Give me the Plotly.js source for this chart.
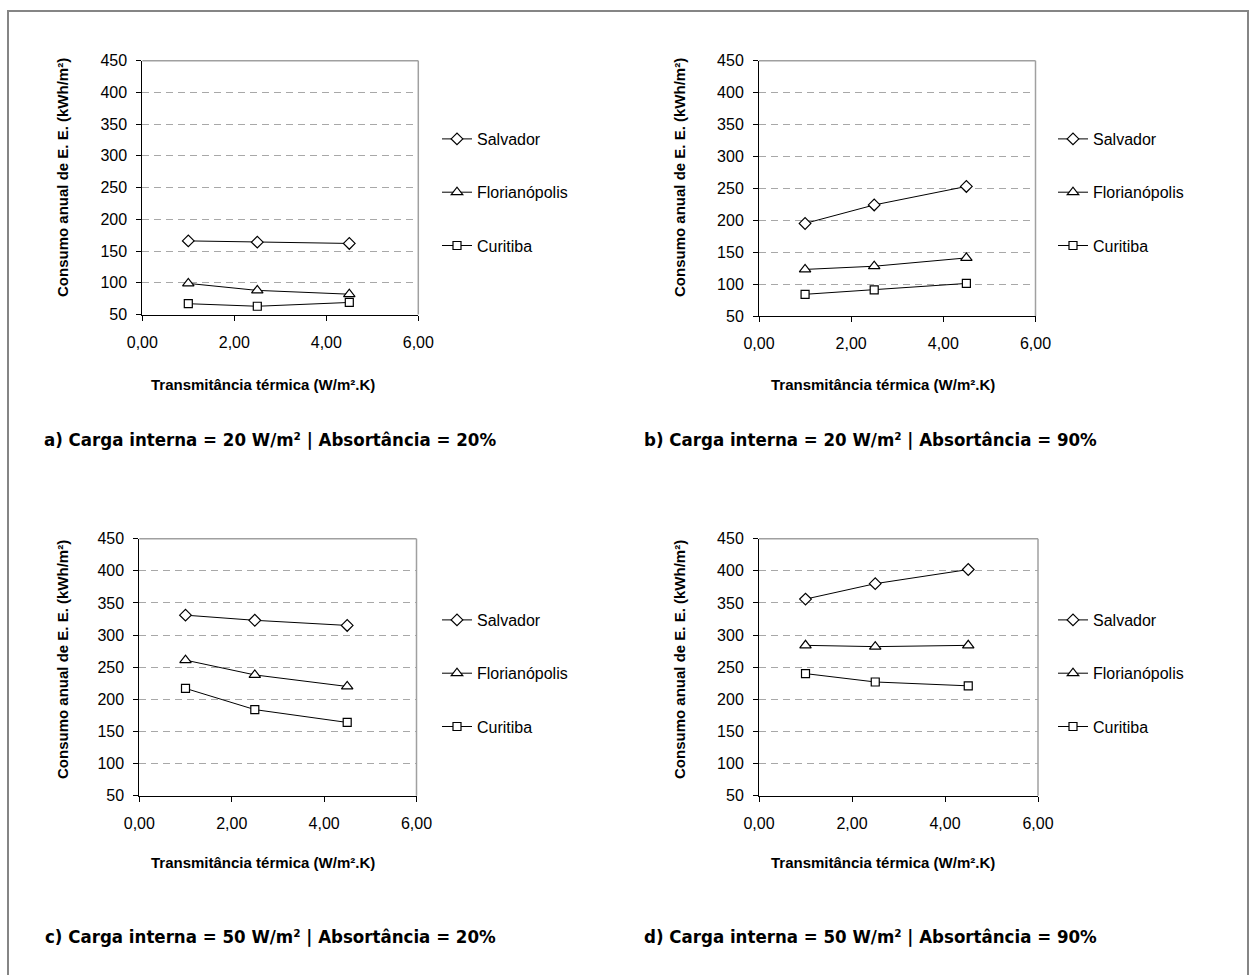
<!DOCTYPE html>
<html>
<head>
<meta charset="utf-8">
<script src="https://cdn.plot.ly/plotly-3.0.1.min.js"></script>
<style>html,body{margin:0;padding:0;background:#fff;}#chart{width:1252px;height:975px;}</style>
</head>
<body>
<div id="chart"></div>
<script>
// ---- data ----
const transmitancia = [1.0, 2.5, 4.5];
const cities = ["Salvador", "Florianópolis", "Curitiba"];
const symbols = ["diamond", "triangle-up", "square"];
const symbolSizes = [9, 10, 8];

const a_salvador = [166, 164, 162];
const a_florianopolis = [99, 88, 82];
const a_curitiba = [67, 63, 69];

const b_salvador = [195, 224, 253];
const b_florianopolis = [123, 128, 141];
const b_curitiba = [84, 91, 101];

const c_salvador = [331, 323, 315];
const c_florianopolis = [261, 238, 220];
const c_curitiba = [217, 184, 164];

const d_salvador = [356, 380, 402];
const d_florianopolis = [284, 282, 284];
const d_curitiba = [240, 227, 221];

const captions = [
  "a) Carga interna = 20 W/m² | Absortância = 20%",
  "b) Carga interna = 20 W/m² | Absortância = 90%",
  "c) Carga interna = 50 W/m² | Absortância = 20%",
  "d) Carga interna = 50 W/m² | Absortância = 90%"
];
const yTitle = "Consumo anual de E. E. (kWh/m²)";
const xTitle = "Transmitância térmica (W/m².K)";
const yTickVals = [50, 100, 150, 200, 250, 300, 350, 400, 450];
const xTickVals = [0, 2, 4, 6];

// ---- layout helpers ----
const W = 1252, H = 975;
const px = v => v / W;
const py = v => 1 - v / H;

const panels = [
  {key: "a", data: [a_salvador, a_florianopolis, a_curitiba], x: [142.3, 418.3], y: [60.7, 314.5],
   legX: 437, legY: 122, ytX: 62, ytY: 178, xtX: 263, xtY: 384, capX: 270, capY: 439},
  {key: "b", data: [b_salvador, b_florianopolis, b_curitiba], x: [759, 1035.5], y: [60.7, 316],
   legX: 1053, legY: 122, ytX: 679, ytY: 178, xtX: 883, xtY: 384, capX: 870, capY: 439},
  {key: "c", data: [c_salvador, c_florianopolis, c_curitiba], x: [139.3, 416.5], y: [538.7, 795.7],
   legX: 437, legY: 603, ytX: 62, ytY: 660, xtX: 263, xtY: 862, capX: 270, capY: 936},
  {key: "d", data: [d_salvador, d_florianopolis, d_curitiba], x: [759, 1038], y: [538.7, 795.7],
   legX: 1053, legY: 603, ytX: 679, ytY: 660, xtX: 883, xtY: 862, capX: 870, capY: 936}
];

const FONT = "Liberation Sans, Arial, sans-serif";
const traces = [];
const layout = {
  width: W, height: H,
  margin: {l: 0, r: 0, t: 0, b: 0},
  paper_bgcolor: "#ffffff",
  plot_bgcolor: "#ffffff",
  separators: ",.",
  showlegend: true,
  font: {family: FONT, color: "#000", size: 15},
  annotations: [],
  shapes: []
};

panels.forEach((p, i) => {
  const n = i + 1;
  const xa = n === 1 ? "xaxis" : "xaxis" + n;
  const ya = n === 1 ? "yaxis" : "yaxis" + n;
  const xr = n === 1 ? "x" : "x" + n;
  const yr = n === 1 ? "y" : "y" + n;
  const leg = n === 1 ? "legend" : "legend" + n;

  p.data.forEach((vals, k) => {
    traces.push({
      type: "scatter", mode: "lines+markers",
      x: transmitancia, y: vals, name: cities[k],
      xaxis: xr, yaxis: yr, legend: leg, legendgroup: p.key + k,
      line: {color: "#000", width: 1},
      marker: {symbol: symbols[k], size: symbolSizes[k], color: "#ffffff", line: {width: 1.2, color: "#000"}},
      cliponaxis: false
    });
  });

  layout[xa] = {
    domain: [px(p.x[0]), px(p.x[1])], anchor: yr,
    range: [0, 6], tickvals: xTickVals, tickformat: ".2f",
    showgrid: false, zeroline: false,
    showline: true, linecolor: "#000", linewidth: 1,
    ticks: "outside", ticklen: 5, tickcolor: "#000", tickwidth: 1,
    ticklabelstandoff: 8,
    tickfont: {family: FONT, size: 16, color: "#000"}
  };
  layout[ya] = {
    domain: [py(p.y[1]), py(p.y[0])], anchor: xr,
    range: [50, 450], tickvals: yTickVals,
    showgrid: true, gridcolor: "#a8a8a8", gridwidth: 1, griddash: "7px,5px",
    zeroline: false,
    showline: true, linecolor: "#000", linewidth: 1,
    ticks: "outside", ticklen: 5, tickcolor: "#000", tickwidth: 1,
    ticklabelstandoff: 6,
    tickfont: {family: FONT, size: 16, color: "#000"}
  };
  layout[leg] = {
    x: px(p.legX), y: py(p.legY), xanchor: "left", yanchor: "top",
    bgcolor: "rgba(0,0,0,0)", borderwidth: 0,
    traceorder: "grouped", tracegroupgap: 29.5,
    font: {family: FONT, size: 16, color: "#000"}
  };
  // top & right plot frame (gray)
  layout.shapes.push({type: "line", xref: xr + " domain", yref: yr + " domain", x0: 0, x1: 1, y0: 1, y1: 1,
    line: {color: "#a0a0a0", width: 1.5}});
  layout.shapes.push({type: "line", xref: xr + " domain", yref: yr + " domain", x0: 1, x1: 1, y0: 0, y1: 1,
    line: {color: "#a0a0a0", width: 1.5}});

  layout.annotations.push({text: "<b>" + yTitle + "</b>", textangle: -90, xref: "paper", yref: "paper",
    x: px(p.ytX), y: py(p.ytY), xanchor: "center", yanchor: "middle", showarrow: false,
    font: {family: FONT, size: 15, color: "#000"}});
  layout.annotations.push({text: "<b>" + xTitle + "</b>", xref: "paper", yref: "paper",
    x: px(p.xtX), y: py(p.xtY), xanchor: "center", yanchor: "middle", showarrow: false,
    font: {family: FONT, size: 15, color: "#000"}});
  layout.annotations.push({text: "<b>" + captions[i] + "</b>", xref: "paper", yref: "paper",
    x: px(p.capX), y: py(p.capY), xanchor: "center", yanchor: "middle", showarrow: false,
    font: {family: "DejaVu Sans Condensed, DejaVu Sans, sans-serif", size: 18.5, color: "#000"}});
});

// outer frame
layout.shapes.push({type: "rect", xref: "paper", yref: "paper",
  x0: px(8), x1: px(1248), y0: py(990), y1: py(11),
  line: {color: "#858585", width: 2}, fillcolor: "rgba(0,0,0,0)", layer: "below"});

Plotly.newPlot("chart", traces, layout, {staticPlot: true, displayModeBar: false});
</script>
</body>
</html>
